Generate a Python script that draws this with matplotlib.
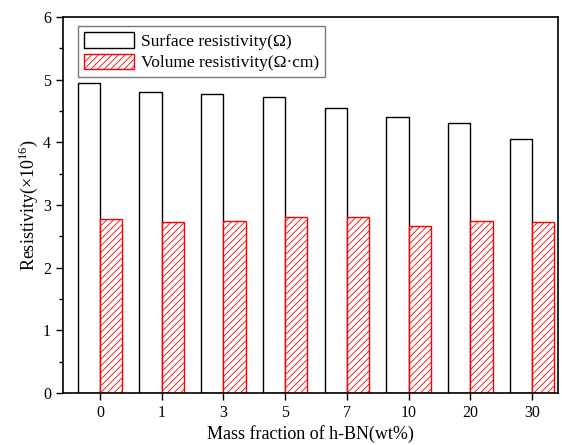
import numpy as np
import matplotlib
matplotlib.use('Agg')
import matplotlib.pyplot as plt
from matplotlib.ticker import MultipleLocator

plt.rcParams['font.family'] = ['Liberation Serif', 'DejaVu Serif']
plt.rcParams['mathtext.fontset'] = 'custom'
plt.rcParams['mathtext.rm'] = 'Liberation Serif'
plt.rcParams['hatch.linewidth'] = 0.6

# data
categories = ['0', '1', '3', '5', '7', '10', '20', '30']
surface = [4.94, 4.80, 4.77, 4.73, 4.54, 4.40, 4.30, 4.05]
volume = [2.77, 2.72, 2.75, 2.81, 2.80, 2.67, 2.75, 2.72]

x = np.arange(len(categories))
w = 0.36

fig = plt.figure(figsize=(5.62, 4.45), dpi=100)
ax = fig.add_axes([0.112, 0.117, 0.881, 0.845])

ax.bar(x - w/2, surface, w, color='white', edgecolor='black', linewidth=1.0,
       label='Surface resistivity(Ω)')
ax.bar(x + w/2, volume, w, color='white', edgecolor='red', hatch='/////', linewidth=1.0,
       label='Volume resistivity(Ω·cm)')

ax.set_xlim(-0.6, 7.42)
ax.set_ylim(0, 6)
ax.set_xticks(x)
ax.set_xticklabels(categories)
ax.yaxis.set_major_locator(MultipleLocator(1))
ax.yaxis.set_minor_locator(MultipleLocator(0.5))
ax.tick_params(axis='both', which='major', direction='out', length=5, width=1, labelsize=11.5)
ax.tick_params(axis='y', which='minor', direction='out', length=3, width=1)
for s in ax.spines.values():
    s.set_linewidth(1.2)

ax.set_xlabel('Mass fraction of h-BN(wt%)', fontsize=13, labelpad=3)
ax.set_ylabel('Resistivity(×10$^{16}$)', fontsize=13, labelpad=2)

ax.legend(loc='upper left', bbox_to_anchor=(0.03, 0.975), borderaxespad=0, fontsize=12.5,
          frameon=True, fancybox=False, edgecolor='#555555', handlelength=2.9, handleheight=1.0,
          borderpad=0.35, labelspacing=0.2, handletextpad=0.4)

fig.savefig('out.png', dpi=100)
